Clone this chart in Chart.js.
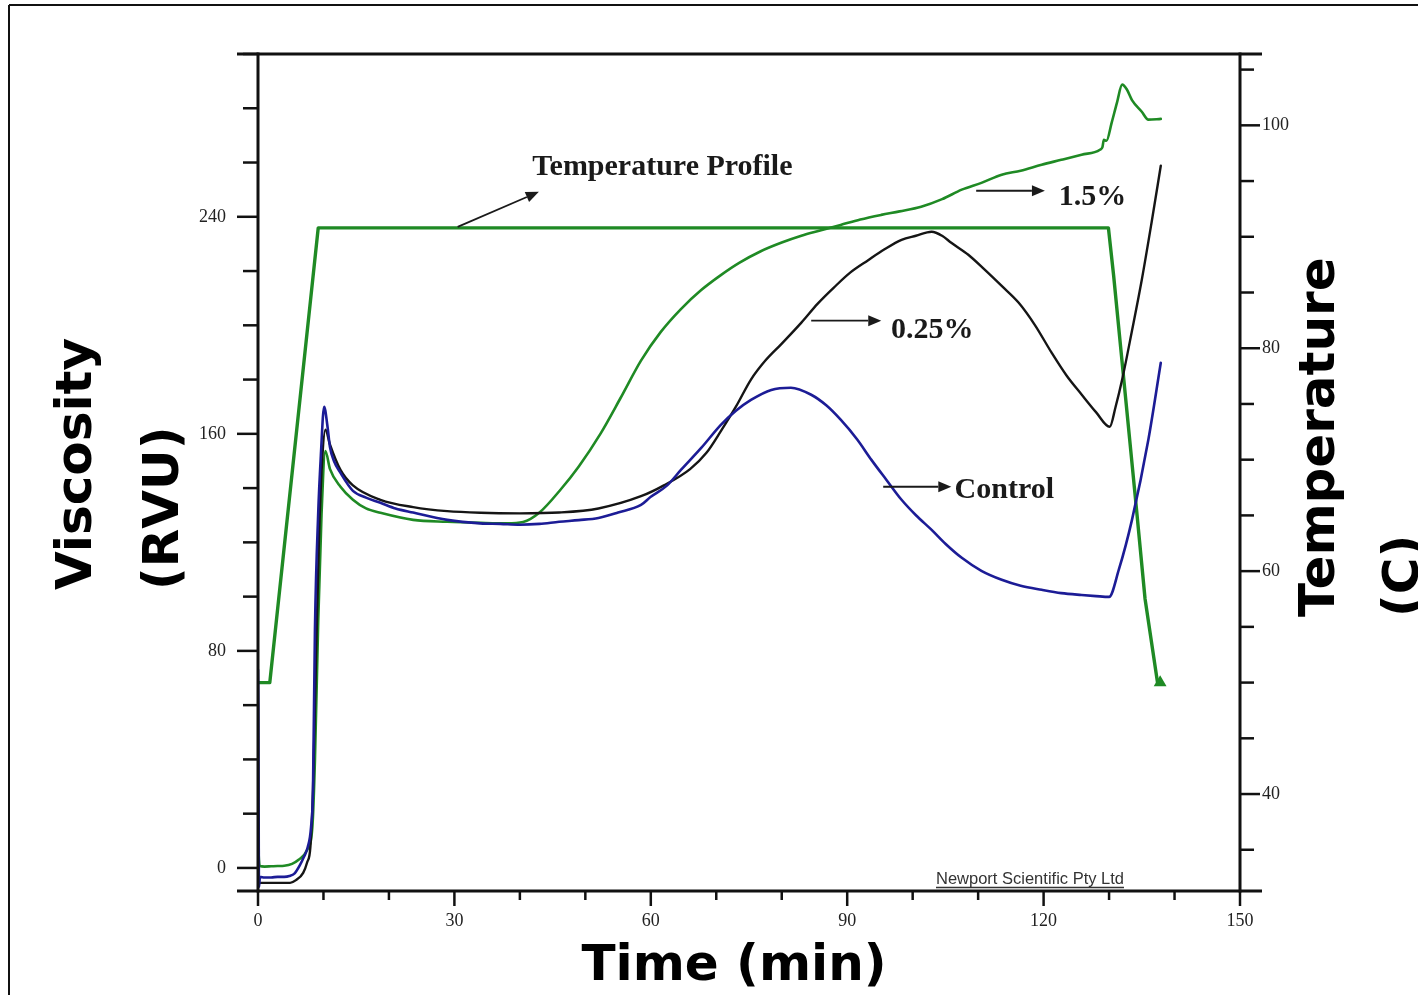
<!DOCTYPE html>
<html><head><meta charset="utf-8">
<script src="https://cdn.jsdelivr.net/npm/chart.js@4.4.1/dist/chart.umd.min.js"></script>
<style>html,body{margin:0;padding:0;background:#fff;overflow:hidden}canvas{display:block}</style>
</head><body>
<canvas id="c" width="1418" height="995"></canvas>
<script>
// ---- Control (blue) viscosity, RVU ----
const timeControl = [0,0.05,0.15,0.3,1,2,3,4,4.8,5.6,6.4,7,7.6,8.1,8.4,8.7,9.2,9.6,10.1,10.6,11,11.6,12.6,14.5,16.5,18.7,21,23.7,28.9,34,37,40,43,46,49,52,55,58.5,60,62.5,64.6,67.7,70.7,73,75.3,78.4,81.4,84.5,86.8,89,91.5,93.7,96,98.3,100.5,102.9,105,107.5,110.5,113.6,116.5,119.7,122.7,125.8,128,130,131.5,133.5,136,137.9];
const viscControl = [73,60,-7,-3.3,-3.5,-3.5,-3.3,-3.3,-3,-2,1,4,7.7,15,29,88,131,152,170,163,155,150,145.6,139,136.5,134.6,132.5,131,128.3,127,126.8,126.5,126.8,127.6,128.2,129,131,133.8,136.8,141,146.7,154.8,163.3,168.5,172.5,176.2,177,174.4,170.5,165.2,158,150.4,143,135.7,130,124.6,119.5,114.3,109.5,106.2,104,102.5,101.3,100.6,100.2,99.9,110,128.3,157.8,186.2];

// ---- 0.25% (black) viscosity, RVU ----
const time025 = [0,0.2,1,2,3,4,4.9,5.8,6.9,7.5,8,8.4,8.8,9.3,9.8,10.3,11,12.6,14.5,18.7,23.7,28.9,34,40,46,52,58.5,62,66,68.5,70.7,73,75.3,77.5,79.9,83,85.5,88,90.5,93.2,95.7,98.3,100.5,102.9,104.5,105.9,108.5,111,113.6,116.2,118.7,121.2,123.5,125.8,128,130.1,131,132,133.5,135,136.5,137.9];
const visc025 = [-4,-5.5,-5.5,-5.5,-5.5,-5.5,-5.5,-4.5,-1.8,2,7.7,29,70,120,150,161.5,156,146.7,141,135.7,133,131.5,130.9,130.7,131,132.5,137,141,147,153,161,170,180,187,193,201,208,214,219.5,224,228,231.5,233,234.5,233,230.4,226,220.5,214.5,208.3,200,190,181.5,174.5,168,162.6,170,180,198,216.8,238,258.8];

// ---- 1.5% (green) viscosity, RVU ----
const time15 = [0,0.1,0.3,1,2,3,4,5.2,6.2,7.5,8.3,8.7,9.2,9.7,10.3,11,12.6,14.5,16.5,18.7,23.7,28.9,34,38,40.5,43,46.2,49,52.3,55.4,58.5,61.5,64.6,67.7,70.7,73.5,76.8,80,83,86,89,92,95.2,98,101.3,104.5,107.5,110.5,113.6,116.5,119.7,122.7,125.8,128.6,129,129.2,129.6,130.4,131.2,132,132.7,133.5,135,136,137.9];
const visc15 = [16.6,5,0.7,0.5,0.6,0.7,0.8,1.5,3,6.6,15,40,91,130,153.7,147,140.5,135.7,132.5,130.9,128.3,127.6,127.2,127,127.5,131,139.4,148,160,173.3,187,197.5,206,213,218.5,223,227.3,230.5,233,235,237,239,240.7,242,243.7,246.5,250,252.5,255.5,257,259.2,261,262.9,264.7,265.8,268.4,268,274.7,282,288.7,287,283,278.7,275.8,276.1];

// ---- Temperature profile (green), degrees C ----
const timeTemp = [0,1.8,9.2,20,40,60,80,100,120,129.9,130.7,134.2,135.5,137.4,137.8];
const tempProfile = [50,50,90.8,90.8,90.8,90.8,90.8,90.8,90.8,90.8,86.5,65.5,57.5,50,50];

// ---- Axis ticks ----
const xTickLabels = [0,30,60,90,120,150];
const yTickLabels = [0,80,160,240];
const y1TickLabels = [40,60,80,100];

// ---- Annotations (data coordinates: time, viscosity) ----
const annLabels = ['Temperature Profile','1.5%','0.25%','Control'];
const annTextX = [41.9,122.3,96.7,106.4];
const annTextY = [255.5,244.4,195.4,136.4];
const annFromX = [30.5,109.7,84.5,95.5];
const annFromY = [236.3,249.6,201.7,140.5];
const annToX = [42.9,120.2,95.2,105.9];
const annToY = [249.2,249.6,201.7,140.5];

const pts = (xs, ys) => xs.map((x, i) => ({x, y: ys[i]}));

const GREEN = '#1f8a24', BLUE = '#1c1c96', BLACK = '#151515';
const tickFont = {family: "'Liberation Serif', 'Times New Roman', serif", size: 18};

const decor = {
  id: 'decor',
  afterDraw(chart) {
    const ctx = chart.ctx, a = chart.chartArea;
    const sx = chart.scales.x, sy = chart.scales.y, sr = chart.scales.y1;
    const line = (x1, y1, x2, y2) => { ctx.beginPath(); ctx.moveTo(x1, y1); ctx.lineTo(x2, y2); ctx.stroke(); };
    ctx.save();
    ctx.strokeStyle = '#111';
    ctx.lineWidth = 2.5;
    sx.ticks.forEach(t => { const p = sx.getPixelForValue(t.value); const L = xTickLabels.includes(t.value) ? 15 : 9; line(p, a.bottom, p, a.bottom + L); });
    sy.ticks.forEach(t => { const p = sy.getPixelForValue(t.value); const L = yTickLabels.includes(t.value) ? 21 : 15; line(a.left - L, p, a.left, p); });
    sr.ticks.forEach(t => { const p = sr.getPixelForValue(t.value); const L = y1TickLabels.includes(t.value) ? 20 : 14; line(a.right, p, a.right + L, p); });
    ctx.lineWidth = 3;
    line(a.left, a.top - 1.5, a.left, a.bottom + 1.5);
    line(a.right, a.top - 1.5, a.right, a.bottom + 1.5);
    line(a.left - 21, a.top, a.right + 22, a.top);
    line(a.left - 21, a.bottom, a.right + 22, a.bottom);
    // outer frame
    ctx.lineWidth = 2;
    line(9, 5, 9, 995); line(9, 5, 1418, 5);

    // annotations
    ctx.fillStyle = '#1a1a1a'; ctx.strokeStyle = '#1a1a1a';
    ctx.font = "bold 30px 'Liberation Serif', 'Times New Roman', serif";
    ctx.textBaseline = 'alphabetic'; ctx.textAlign = 'left';
    annLabels.forEach((lab, i) => {
      ctx.fillText(lab, sx.getPixelForValue(annTextX[i]), sy.getPixelForValue(annTextY[i]));
      const x1 = sx.getPixelForValue(annFromX[i]), y1 = sy.getPixelForValue(annFromY[i]);
      const x2 = sx.getPixelForValue(annToX[i]), y2 = sy.getPixelForValue(annToY[i]);
      const ang = Math.atan2(y2 - y1, x2 - x1), hl = 13, hw = 5.5;
      const bx = x2 - hl * Math.cos(ang), by = y2 - hl * Math.sin(ang);
      ctx.lineWidth = 1.8;
      line(x1, y1, bx, by);
      ctx.beginPath(); ctx.moveTo(x2, y2);
      ctx.lineTo(bx - hw * Math.sin(ang), by + hw * Math.cos(ang));
      ctx.lineTo(bx + hw * Math.sin(ang), by - hw * Math.cos(ang));
      ctx.closePath(); ctx.fill();
    });

    // credit
    ctx.font = "16.5px 'Liberation Sans', Arial, sans-serif";
    ctx.fillStyle = '#333'; ctx.strokeStyle = '#333';
    ctx.fillText('Newport Scientific Pty Ltd', 936, 884);
    const w = ctx.measureText('Newport Scientific Pty Ltd').width;
    ctx.lineWidth = 1.3; line(936, 887.5, 936 + w, 887.5);

    // axis titles
    ctx.fillStyle = '#000';
    ctx.font = "bold 50px 'DejaVu Sans', sans-serif";
    ctx.textAlign = 'center';
    ctx.fillText('Time (min)', 734, 980);
    ctx.textAlign = 'left';
    const rot = (txt, x, y) => { ctx.save(); ctx.translate(x, y); ctx.rotate(-Math.PI / 2); ctx.fillText(txt, 0, 0); ctx.restore(); };
    rot('Viscosity', 91, 590);
    rot('(RVU)', 178, 590);
    rot('Temperature', 1334, 617);
    rot('(C)', 1418, 617);
    ctx.restore();
  }
};

new Chart(document.getElementById('c'), {
  type: 'line',
  data: {
    datasets: [
      {label: 'Control', data: pts(timeControl, viscControl), yAxisID: 'y', borderColor: BLUE, borderWidth: 2.6, cubicInterpolationMode: 'monotone'},
      {label: '0.25%', data: pts(time025, visc025), yAxisID: 'y', borderColor: BLACK, borderWidth: 2.4, cubicInterpolationMode: 'monotone'},
      {label: '1.5%', data: pts(time15, visc15), yAxisID: 'y', borderColor: GREEN, borderWidth: 2.6, cubicInterpolationMode: 'monotone'},
      {label: 'Temperature Profile', data: pts(timeTemp, tempProfile), yAxisID: 'y1', borderColor: GREEN, borderWidth: 3.4, tension: 0,
       pointRadius: c => c.dataIndex === timeTemp.length - 1 ? 4 : 0, pointStyle: 'triangle', pointBackgroundColor: GREEN, pointBorderColor: GREEN}
    ]
  },
  options: {
    responsive: false,
    animation: false,
    layout: {padding: {top: 54, left: 0, right: 0, bottom: 0}},
    elements: {point: {radius: 0}, line: {borderCapStyle: 'round', borderJoinStyle: 'round'}},
    plugins: {legend: {display: false}, tooltip: {enabled: false}},
    scales: {
      x: {type: 'linear', position: 'bottom', min: 0, max: 150,
          grid: {display: false, drawTicks: false}, border: {display: false},
          ticks: {stepSize: 10, autoSkip: false, maxRotation: 0, padding: 19, font: tickFont, color: '#222',
                  callback: v => xTickLabels.includes(v) ? String(v) : ''},
          afterFit(s) { s.height = 104; }},
      y: {type: 'linear', position: 'left', min: -8.5, max: 300,
          grid: {display: false, drawTicks: false}, border: {display: false},
          ticks: {stepSize: 20, includeBounds: false, autoSkip: false, padding: 32, font: tickFont, color: '#222',
                  callback: v => yTickLabels.includes(v) ? String(v) : ''},
          afterFit(s) { s.width = 258; }},
      y1: {type: 'linear', position: 'right', min: 31.3, max: 106.4,
          grid: {display: false, drawTicks: false}, border: {display: false},
          ticks: {stepSize: 5, includeBounds: false, autoSkip: false, padding: 22, font: tickFont, color: '#222',
                  callback: v => y1TickLabels.includes(v) ? String(v) : ''},
          afterFit(s) { s.width = 178; }}
    }
  },
  plugins: [decor]
});
</script>
</body></html>
